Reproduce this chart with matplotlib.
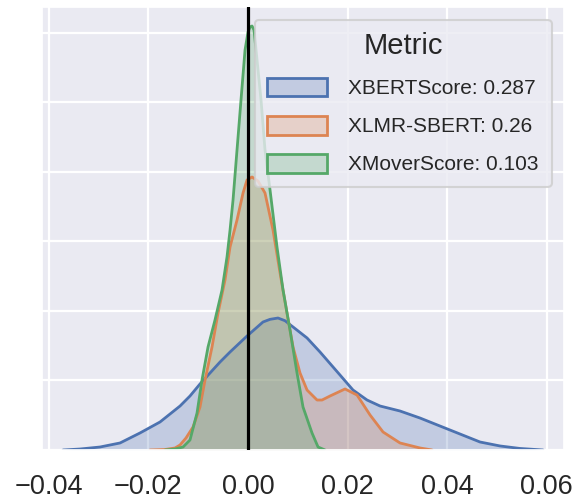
import matplotlib
matplotlib.use("Agg")
import matplotlib.pyplot as plt
from matplotlib.patches import Patch
import seaborn as sns

# ---- data (x = score difference, y = density) ----
labels = ["XBERTScore: 0.287", "XLMR-SBERT: 0.26", "XMoverScore: 0.103"]

xbert_x = [-0.03715, -0.03373, -0.02972, -0.02570, -0.02169, -0.01767, -0.01365,
           -0.01165, -0.00964, -0.00763, -0.00562, -0.00361, -0.00020, 0.00301,
           0.00442, 0.00602, 0.00743, 0.00904, 0.01185, 0.01446, 0.01847, 0.02108,
           0.02390, 0.02651, 0.03052, 0.03454, 0.03855, 0.04257, 0.04659, 0.05060,
           0.05462, 0.05924]
xbert_y = [0.0, 0.14, 0.43, 1.01, 2.45, 4.03, 6.33, 7.77, 9.50, 11.08, 12.66,
           14.10, 16.40, 18.42, 18.80, 18.99, 18.60, 17.70, 16.12, 14.10, 10.79,
           8.63, 7.19, 6.33, 5.61, 4.60, 3.45, 2.30, 1.15, 0.58, 0.22, 0.0]

xlmr_x = [-0.01968, -0.01667, -0.01466, -0.01365, -0.01245, -0.01104, -0.00964,
          -0.00863, -0.00723, -0.00602, -0.00462, -0.00361, -0.00221, -0.00100,
          -0.00020, 0.00080, 0.00201, 0.00341, 0.00502, 0.00643, 0.00783, 0.00904,
          0.01044, 0.01185, 0.01386, 0.01486, 0.01647, 0.01948, 0.02189, 0.02450,
          0.02711, 0.03052, 0.03454, 0.03695]
xlmr_y = [0.0, 0.07, 0.29, 0.72, 1.73, 3.31, 6.19, 10.07, 14.82, 19.71, 24.46,
          29.21, 33.09, 36.98, 38.85, 39.28, 38.71, 36.98, 31.65, 25.47, 19.71,
          14.82, 11.08, 8.63, 7.19, 7.19, 7.77, 8.78, 7.91, 5.04, 2.59, 1.01,
          0.29, 0.0]

xmover_x = [-0.01667, -0.01466, -0.01305, -0.01165, -0.01024, -0.00924, -0.00803,
            -0.00663, -0.00522, -0.00422, -0.00361, -0.00301, -0.00221, -0.00141,
            -0.00060, 0.0, 0.00040, 0.00080, 0.00120, 0.00161, 0.00261, 0.00341,
            0.00442, 0.00582, 0.00703, 0.00843, 0.00984, 0.01104, 0.01285,
            0.01406, 0.01546]
xmover_y = [0.0, 0.14, 0.43, 1.44, 5.32, 10.07, 14.82, 18.71, 23.02, 27.77,
            31.65, 35.97, 43.17, 50.36, 57.55, 60.14, 60.86, 61.01, 60.43, 57.55,
            50.36, 43.17, 37.41, 29.21, 23.02, 17.27, 11.08, 6.19, 2.45, 0.43, 0.0]

xticks = [-0.04, -0.02, 0.00, 0.02, 0.04, 0.06]
xtick_labels = ["\u22120.04", "\u22120.02", "0.00", "0.02", "0.04", "0.06"]
yticks = [0, 10, 20, 30, 40, 50, 60]

# ---- style ----
sns.set_theme(style="darkgrid")
plt.rcParams["font.family"] = ["Liberation Sans", "DejaVu Sans"]
colors = sns.color_palette("deep")[:3]

fig = plt.figure(figsize=(5.81, 4.99), dpi=100)
ax = fig.add_axes([42 / 581, 1 - 450 / 499, (564 - 42) / 581, (450 - 7) / 499])

series = [(xbert_x, xbert_y), (xlmr_x, xlmr_y), (xmover_x, xmover_y)]
for (xs, ys), c in zip(series, colors):
    ax.fill_between(xs, ys, 0, color=c, alpha=0.25, linewidth=0)
    ax.plot(xs, ys, color=c, lw=2.0, solid_joinstyle="round",
            solid_capstyle="round")

ax.axvline(0, color="black", lw=2.3, zorder=5)

ax.set_xlim(-0.04137, 0.06345)
ax.set_ylim(0, 63.74)
ax.set_xticks(xticks)
ax.set_xticklabels(xtick_labels, fontsize=19.5, color="#262626")
ax.set_yticks(yticks)
ax.set_yticklabels([])
ax.tick_params(axis="x", pad=17, length=0)
ax.tick_params(axis="y", length=0)
ax.grid(True, color="white", lw=1.6)
ax.set_xlabel("")
ax.set_ylabel("")

handles = [Patch(facecolor=(*c, 0.25), edgecolor=c, lw=2.0) for c in colors]
leg = ax.legend(handles, labels, title="Metric", loc="upper right",
                fontsize=15, title_fontsize=21, handlelength=2.85,
                handleheight=1.0, handletextpad=1.05, labelspacing=0.85,
                borderaxespad=0.6, borderpad=0.6, framealpha=0.8)
leg.get_frame().set_edgecolor("#cccccc")
leg.get_frame().set_linewidth(1.5)
for t in leg.get_texts():
    t.set_color("#262626")
leg.get_title().set_color("#262626")

fig.savefig("out.png", dpi=100)
